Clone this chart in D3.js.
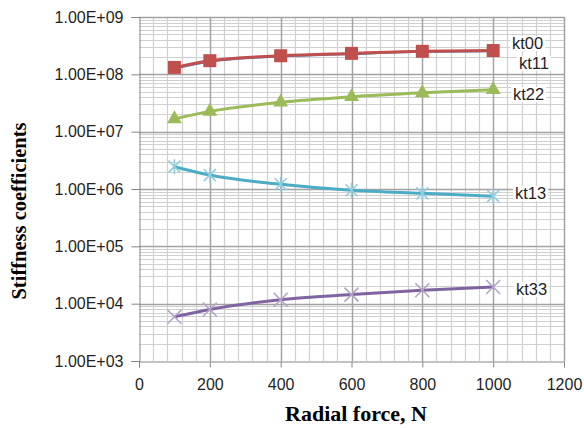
<!DOCTYPE html>
<html><head><meta charset="utf-8">
<script src="https://cdn.jsdelivr.net/npm/d3@7"></script>
<style>body{margin:0;background:#fff}svg{display:block}</style>
</head><body>
<svg id="c" width="584" height="428"></svg>
<script>
const forces = [100, 200, 400, 600, 800, 1000];
const kt00 = [1.28e8, 1.68e8, 2.07e8, 2.28e8, 2.49e8, 2.56e8];
const kt11 = [1.32e8, 1.73e8, 2.11e8, 2.32e8, 2.52e8, 2.60e8];
const kt22 = [1.67e7, 2.26e7, 3.25e7, 4.05e7, 4.75e7, 5.4e7];
const kt13 = [2.45e6, 1.75e6, 1.21e6, 9.5e5, 8.4e5, 7.5e5];
const kt33 = [5.9e3, 7.9e3, 1.17e4, 1.44e4, 1.71e4, 1.95e4];
const seriesNames = ["kt00", "kt11", "kt22", "kt13", "kt33"];
const xTicks = [0, 200, 400, 600, 800, 1000, 1200];
const yTicks = [1e3, 1e4, 1e5, 1e6, 1e7, 1e8, 1e9];
const yTickLabels = ["1.00E+03","1.00E+04","1.00E+05","1.00E+06","1.00E+07","1.00E+08","1.00E+09"];

const svg = d3.select("#c");
const L = 139, R = 564, T = 17, B = 361;
const x = d3.scaleLinear().domain([0, 1200]).range([L, R]);
const y = d3.scaleLog().domain([1e3, 1e9]).range([B, T]);

const g = svg.append("g");
const minorX = d3.range(0, 1201, 40).filter(v => v % 200 !== 0);
g.selectAll(".vmin").data(minorX).enter().append("line")
  .attr("x1", d => Math.round(x(d)) + 0.5).attr("x2", d => Math.round(x(d)) + 0.5).attr("y1", T).attr("y2", B)
  .attr("stroke", "#d0d0d0").attr("stroke-width", 1.2);
const minorY = [];
for (let e = 3; e < 9; e++) for (let m = 2; m <= 9; m++) minorY.push(m * Math.pow(10, e));
g.selectAll(".hmin").data(minorY).enter().append("line")
  .attr("x1", L).attr("x2", R).attr("y1", d => Math.round(y(d)) + 0.5).attr("y2", d => Math.round(y(d)) + 0.5)
  .attr("stroke", "#d0d0d0").attr("stroke-width", 1.2);
g.selectAll(".vmaj").data(xTicks.slice(1)).enter().append("line")
  .attr("x1", d => Math.round(x(d)) + 0.5).attr("x2", d => Math.round(x(d)) + 0.5).attr("y1", T).attr("y2", B)
  .attr("stroke", "#a2a2a2").attr("stroke-width", 1.5);
g.selectAll(".hmaj").data(yTicks.slice(1)).enter().append("line")
  .attr("x1", L).attr("x2", R).attr("y1", d => Math.round(y(d)) + 0.5).attr("y2", d => Math.round(y(d)) + 0.5)
  .attr("stroke", "#a2a2a2").attr("stroke-width", 1.5);

const fontSans = "'Liberation Sans', Arial, sans-serif";
const yAxis = d3.axisLeft(y).tickValues(yTicks).tickFormat((d, i) => yTickLabels[i]).tickSize(8).tickPadding(8);
const ya = svg.append("g").attr("transform", `translate(${L + 0.5},0)`).call(yAxis);
ya.select(".domain").attr("stroke", "#868686");
ya.selectAll(".tick line").attr("stroke", "#868686");
ya.selectAll("text").attr("font-family", fontSans).attr("font-size", 16).attr("fill", "#1f1f1f");

const xAxis = d3.axisBottom(x).tickValues(xTicks).tickFormat(d3.format("d")).tickSize(6).tickPadding(11);
const xa = svg.append("g").attr("transform", `translate(0,${B + 0.5})`).call(xAxis);
xa.select(".domain").attr("stroke", "#868686");
xa.selectAll(".tick line").attr("stroke", "#868686");
xa.selectAll("text").attr("font-family", fontSans).attr("font-size", 16).attr("fill", "#1f1f1f");

const fontSerif = "'Liberation Serif', 'Times New Roman', serif";
svg.append("text").attr("transform", "translate(26,211) rotate(-90)").attr("text-anchor", "middle")
  .attr("font-family", fontSerif).attr("font-weight", "bold").attr("font-size", 20.5)
  .attr("fill", "#000").text("Stiffness coefficients");
svg.append("text").attr("x", 356).attr("y", 421).attr("text-anchor", "middle")
  .attr("font-family", fontSerif).attr("font-weight", "bold").attr("font-size", 22)
  .attr("fill", "#000").text("Radial force, N");

const line = d3.line().curve(d3.curveMonotoneX).x(d => x(d[0])).y(d => y(d[1]));
const pts = vals => forces.map((f, i) => [f, vals[i]]);

svg.append("path").attr("d", line(pts(kt00))).attr("fill", "none").attr("stroke", "#4F81BD").attr("stroke-width", 2.5);
svg.append("path").attr("d", line(pts(kt11))).attr("fill", "none").attr("stroke", "#C0504D").attr("stroke-width", 3);
svg.selectAll(".sq").data(pts(kt11)).enter().append("rect")
  .attr("x", d => x(d[0]) - 6.5).attr("y", d => y(d[1]) - 6.5).attr("width", 13).attr("height", 13)
  .attr("fill", "#C0504D");
svg.append("path").attr("d", line(pts(kt22))).attr("fill", "none").attr("stroke", "#9BBB59").attr("stroke-width", 3);
const tri = d3.symbol().type(d3.symbolTriangle).size(95);
svg.selectAll(".tr").data(pts(kt22)).enter().append("path")
  .attr("d", tri).attr("transform", d => `translate(${x(d[0])},${y(d[1])})`).attr("fill", "#9BBB59");
svg.append("path").attr("d", line(pts(kt13))).attr("fill", "none").attr("stroke", "#4BACC6").attr("stroke-width", 3);
svg.selectAll(".st").data(pts(kt13)).enter().append("path")
  .attr("d", "M-6,-6L6,6M-6,6L6,-6M0,-7.5L0,7.5")
  .attr("transform", d => `translate(${x(d[0])},${y(d[1])})`)
  .attr("stroke", "#93CDDD").attr("stroke-width", 1.6).attr("fill", "none");
svg.append("path").attr("d", line(pts(kt33))).attr("fill", "none").attr("stroke", "#8064A2").attr("stroke-width", 3);
svg.selectAll(".xm").data(pts(kt33)).enter().append("path")
  .attr("d", "M-7,-7L7,7M-7,7L7,-7")
  .attr("transform", d => `translate(${x(d[0])},${y(d[1])})`)
  .attr("stroke", "#B3A2C7").attr("stroke-width", 1.6).attr("fill", "none");

const labelPos = [
  {name: seriesNames[0], lx: 512, ly: 49},
  {name: seriesNames[1], lx: 519, ly: 69},
  {name: seriesNames[2], lx: 513, ly: 100},
  {name: seriesNames[3], lx: 515, ly: 199},
  {name: seriesNames[4], lx: 516, ly: 295}
];
const lg = svg.append("g");
labelPos.forEach(p => {
  const t = lg.append("text").attr("x", p.lx).attr("y", p.ly)
    .attr("font-family", fontSans).attr("font-size", 16.5).attr("fill", "#1f1f1f").text(p.name);
  const bb = t.node().getBBox();
  lg.insert("rect", "text").attr("x", bb.x - 2).attr("y", bb.y + 2).attr("width", bb.width + 4).attr("height", bb.height - 3).attr("fill", "#fff");
});
</script>
</body></html>
